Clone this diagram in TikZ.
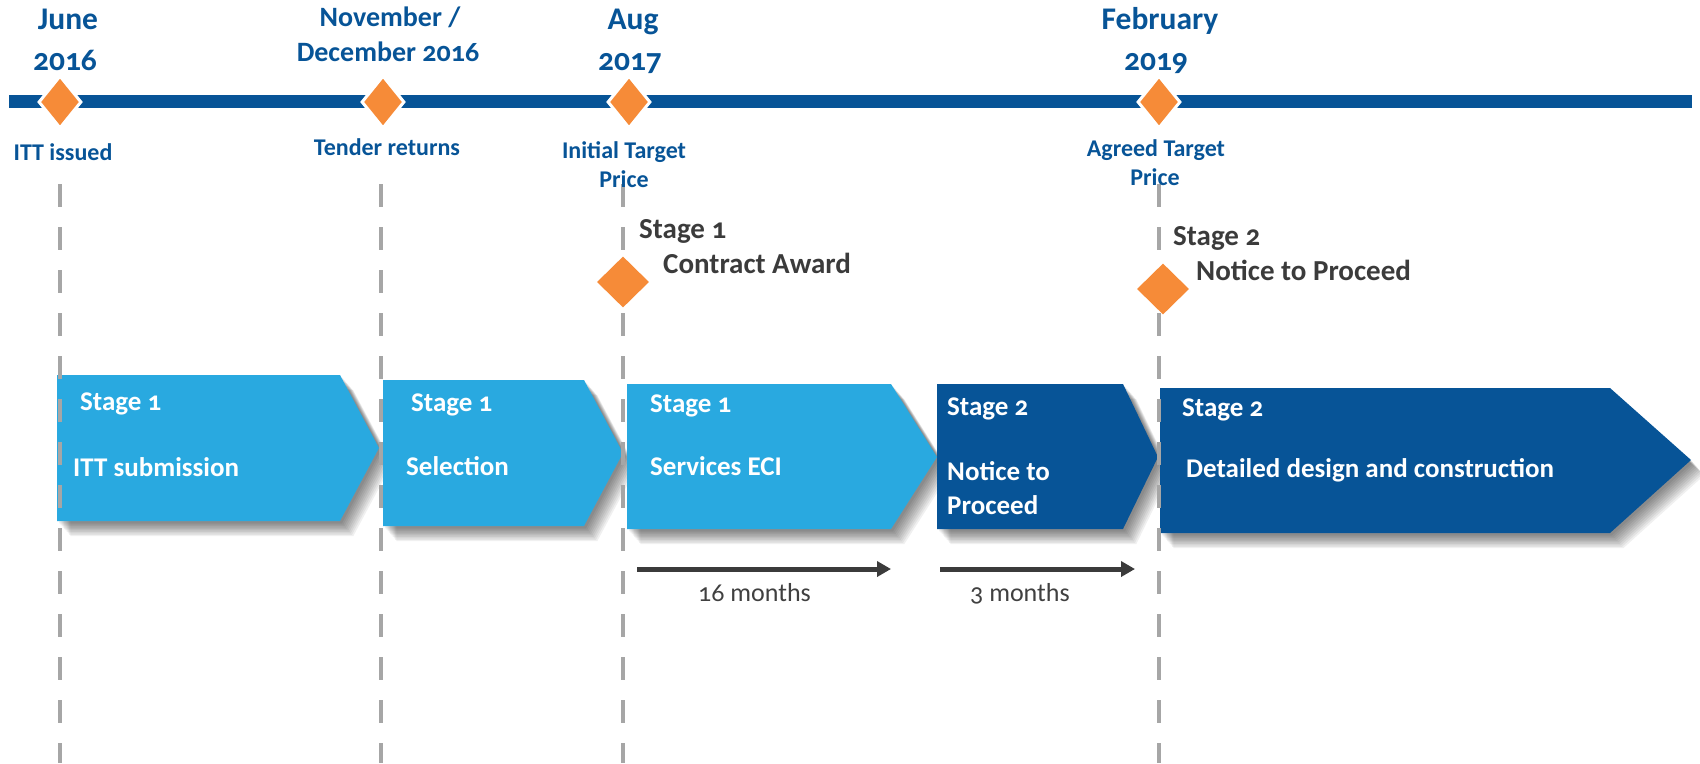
\documentclass[tikz,border=0pt]{standalone}
\usepackage{fontspec}
\setmainfont{Carlito}[Numbers=OldStyle]
\usetikzlibrary{shapes.geometric,arrows.meta}
\definecolor{tblue}{HTML}{075497}
\definecolor{lblue}{HTML}{29A9E0}
\definecolor{dorange}{HTML}{F68B38}
\definecolor{lgray}{HTML}{A6A6A6}
\definecolor{dgray}{HTML}{3B3B3B}
\definecolor{mgray}{HTML}{404040}
\newcommand\mychev[7]{%
  \foreach \s in {2,3.25,...,13.5}{%
    \fill[black,opacity=0.06,shift={(\s,\s*1.15)}] (#1,#2) -- (#4,#2) -- (#5,#6) -- (#4,#3) -- (#1,#3) -- cycle;}
  \fill[#7] (#1,#2) -- (#4,#2) -- (#5,#6) -- (#4,#3) -- (#1,#3) -- cycle;}
\begin{document}
\begin{tikzpicture}[x=1pt,y=-1pt,
  datelbl/.style={font=\fontsize{31.5}{38}\selectfont\bfseries, text=tblue, inner sep=0, anchor=base},
  smalldate/.style={datelbl, font=\fontsize{28}{34}\selectfont\bfseries},
  sublbl/.style={font=\fontsize{24}{29}\selectfont\bfseries, text=tblue, inner sep=0, anchor=base},
  stglbl/.style={font=\fontsize{29}{35}\selectfont\bfseries, text=dgray, inner sep=0, anchor=base west},
  boxtxt/.style={font=\fontsize{27}{32}\selectfont\bfseries, text=white, inner sep=0, anchor=base west},
  monlbl/.style={font=\fontsize{26}{31}\selectfont, text=mgray, inner sep=0, anchor=base west},
  tdia/.style={shape=diamond, fill=dorange, draw=white, line width=3pt, inner sep=0, minimum width=43pt, minimum height=53pt},
  mdia/.style={shape=diamond, fill=dorange, inner sep=0, minimum width=52pt, minimum height=51pt},
  vdash/.style={draw=lgray, line width=4.5pt, dash pattern=on 23pt off 20pt},
  durarrow/.style={draw=dgray, line width=5pt, -{Triangle[length=14pt,width=15pt]}}]
\useasboundingbox (0,0) rectangle (1700,763);
% timeline bar
\fill[tblue] (9,94.5) rectangle (1692,107.5);
% timeline diamonds
\node[tdia] (d1) at (60,102) {};
\node[tdia] (d2) at (383,102) {};
\node[tdia] (d3) at (629,102) {};
\node[tdia] (d4) at (1159,102) {};
% stage boxes
\mychev{57}{375}{521}{340}{379}{448}{lblue}
\mychev{383}{380}{526}{584}{623}{453}{lblue}
\mychev{627}{384}{529}{891}{937}{457}{lblue}
\mychev{937}{384}{529}{1123}{1158}{457}{tblue}
\mychev{1160}{388}{533}{1610}{1691}{460}{tblue}
% dashed verticals
\coordinate (v1t) at (60,184);  \coordinate (v1b) at (60,763);
\coordinate (v2t) at (381,184); \coordinate (v2b) at (381,763);
\coordinate (v3t) at (623,184); \coordinate (v3b) at (623,763);
\coordinate (v4t) at (1159,184);\coordinate (v4b) at (1159,763);
\draw[vdash] (v1t) -- (v1b);
\draw[vdash] (v2t) -- (v2b);
\draw[vdash] (v3t) -- (v3b);
\draw[vdash] (v4t) -- (v4b);
% milestone diamonds
\node[mdia] (m1) at (623,282) {};
\node[mdia] (m2) at (1163,289) {};
% date labels
\node[datelbl] (june1) at (68,29) {June};
\node[datelbl] (june2) at (65,70) {2016};
\node[smalldate] (nov1) at (390,26) {November /};
\node[smalldate] (nov2) at (388,61) {December 2016};
\node[datelbl] (aug1) at (633,29) {Aug};
\node[datelbl] (aug2) at (630,70) {2017};
\node[datelbl] (feb1) at (1160,29) {February};
\node[datelbl] (feb2) at (1156,70) {2019};
% sub labels
\node[sublbl] (itt) at (63,160) {ITT issued};
\node[sublbl] (tender) at (387,155) {Tender returns};
\node[sublbl] (itp1) at (624,158) {Initial Target};
\node[sublbl] (itp2) at (624,187) {Price};
\node[sublbl] (atp1) at (1156,156) {Agreed Target};
\node[sublbl] (atp2) at (1155,185) {Price};
% stage milestone labels
\node[stglbl] (s1a) at (639,238) {Stage 1};
\node[stglbl] (s1b) at (663,273) {Contract Award};
\node[stglbl] (s2a) at (1173,245) {Stage 2};
\node[stglbl] (s2b) at (1196,280) {Notice to Proceed};
% box texts
\node[boxtxt] (b1a) at (80,410) {Stage 1};
\node[boxtxt] (b1b) at (73,476) {ITT submission};
\node[boxtxt] (b2a) at (411,411) {Stage 1};
\node[boxtxt] (b2b) at (406,475) {Selection};
\node[boxtxt] (b3a) at (650,412) {Stage 1};
\node[boxtxt] (b3b) at (650,475) {Services ECI};
\node[boxtxt] (b4a) at (947,415) {Stage 2};
\node[boxtxt] (b4b) at (947,480) {Notice to};
\node[boxtxt] (b4c) at (947,514) {Proceed};
\node[boxtxt] (b5a) at (1182,416) {Stage 2};
\node[boxtxt] (b5b) at (1186,477) {Detailed design and construction};
% duration arrows
\coordinate (a1s) at (637,569); \coordinate (a1e) at (891,569);
\coordinate (a2s) at (940,569); \coordinate (a2e) at (1135,569);
\draw[durarrow] (a1s) -- (a1e);
\draw[durarrow] (a2s) -- (a2e);
\node[monlbl] (m16) at (698,601) {16 months};
\node[monlbl] (m3) at (970,601) {3 months};
\end{tikzpicture}
\end{document}
